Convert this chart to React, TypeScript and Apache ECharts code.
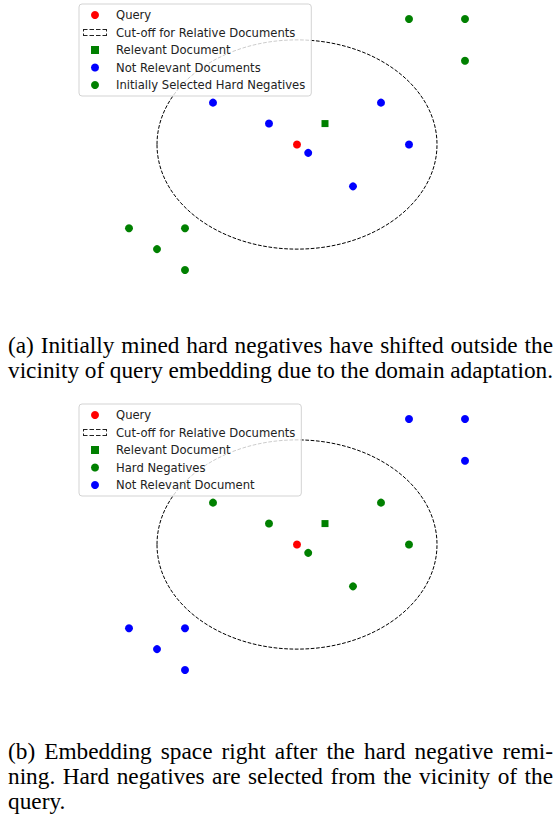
import React, { useEffect, useRef } from "react";
import * as echarts from "echarts";

// ---- data (embedding-space coordinates) ----
const queryPoint = [[0, 0]];
const relevantDoc = [[1, 1]];
const nearDocs = [[-3, 2], [-1, 1], [3, 2], [4, 0], [0.4, -0.4], [2, -2]];
const farDocs = [[4, 6], [6, 6], [6, 4], [-6, -4], [-4, -4], [-5, -5], [-4, -6]];
const cutoff = [[0, 0, 5]]; // centre x, centre y, radius

const legendA = [
  "Query",
  "Cut-off for Relative Documents",
  "Relevant Document",
  "Not Relevant Documents",
  "Initially Selected Hard Negatives",
];
const legendB = [
  "Query",
  "Cut-off for Relative Documents",
  "Relevant Document",
  "Hard Negatives",
  "Not Relevant Document",
];
const captionA = [
  "(a) Initially mined hard negatives have shifted outside the",
  "vicinity of query embedding due to the domain adaptation.",
];
const captionB = [
  "(b) Embedding space right after the hard negative remi-",
  "ning. Hard negatives are selected from the vicinity of the",
  "query.",
];

const RED = "#ff0000";
const BLUE = "#0000ff";
const GREEN = "#008000";

function dashedRectPath(): string {
  const w = 24, h = 7, t = 1;
  const parts: string[] = [];
  const r = (x0: number, y0: number, x1: number, y1: number) =>
    parts.push(`M${x0},${y0}H${x1}V${y1}H${x0}Z`);
  const hd = [[0, 4.5], [6.5, 11], [13, 17.5], [19.5, 24]];
  hd.forEach(([a, b]) => { r(a, 0, b, t); r(a, h - t, b, h); });
  const vd = [[0, 2.5], [4.5, 7]];
  vd.forEach(([a, b]) => { r(0, a, t, b); r(w - t, a, w, b); });
  return "path://" + parts.join(" ");
}
const SQUARE = "path://M0,0H1V1H0Z";

const CAP_FONT = 23.3;
const CAP_FAMILY = "Liberation Serif";
const CAP_LEFT = 8;
const CAP_WIDTH = 545;

function justifiedLine(text: string, y: number, justify: boolean, ctx: CanvasRenderingContext2D | null): any[] {
  const words = text.split(" ");
  const measure = (s: string) => (ctx ? ctx.measureText(s).width : s.length * CAP_FONT * 0.45);
  const widths = words.map(measure);
  const sum = widths.reduce((a, b) => a + b, 0);
  const natural = measure(" ");
  let gap = natural;
  if (words.length > 1) {
    const fitGap = (CAP_WIDTH - sum) / (words.length - 1);
    if (justify || fitGap < natural) gap = fitGap;
  }
  const els: any[] = [];
  let x = CAP_LEFT;
  words.forEach((w, i) => {
    els.push({
      type: "text", x, y,
      style: { text: w, fontFamily: CAP_FAMILY, fontSize: CAP_FONT, fill: "#000", verticalAlign: "middle" },
    });
    x += widths[i] + gap;
  });
  return els;
}

export default function App() {
  const ref = useRef<HTMLDivElement>(null);
  useEffect(() => {
    if (!ref.current) return;
    const chart = echarts.init(ref.current, undefined, { renderer: "svg" });
    const dashIcon = dashedRectPath();

    const grids = [
      { left: 115, width: 364, top: 8.5, height: 272 },
      { left: 115, width: 364, top: 408.5, height: 272 },
    ];
    const axis = (i: number) => ({
      type: "value", gridIndex: i, min: -6.5, max: 6.5, show: false,
    });

    const ellipseSeries = (i: number) => ({
      type: "custom",
      name: "Cut-off for Relative Documents",
      xAxisIndex: i, yAxisIndex: i,
      data: cutoff,
      z: 1,
      renderItem: (params: any, api: any) => {
        const c = api.coord([api.value(0), api.value(1)]);
        const s = api.size([api.value(2), api.value(2)]);
        return {
          type: "ellipse",
          shape: { cx: c[0], cy: c[1], rx: s[0], ry: s[1] },
          style: { fill: "none", stroke: "#000", lineWidth: 1, lineDash: [3.7, 1.6] },
        };
      },
    });
    const scatter = (i: number, name: string, data: number[][], color: string, symbol = "circle", size = 8) => ({
      type: "scatter", name, xAxisIndex: i, yAxisIndex: i, data,
      symbol, symbolSize: size, itemStyle: { color, opacity: 1 }, z: 3,
    });

    const legendBase = {
      orient: "vertical",
      left: 79,
      backgroundColor: "rgba(255,255,255,0.8)",
      borderColor: "#d3d3d3",
      borderWidth: 1,
      borderRadius: 3,
      padding: [4, 6, 4, 4],
      itemWidth: 24,
      itemHeight: 8,
      itemGap: 3.5,
      selectedMode: false,
      textStyle: { fontFamily: "DejaVu Sans", fontSize: 11.6, color: "#222", lineHeight: 14, padding: [0, 0, 0, 4] },
    };
    const iconsA = ["circle", dashIcon, SQUARE, "circle", "circle"];
    const colorsA = [RED, "#222", GREEN, BLUE, GREEN];
    const colorsB = [RED, "#222", GREEN, GREEN, BLUE];

    const canvas = document.createElement("canvas");
    const ctx = canvas.getContext("2d");
    if (ctx) ctx.font = `${CAP_FONT}px "${CAP_FAMILY}"`;
    const captionEls: any[] = [];
    captionA.forEach((t, i) => captionEls.push(...justifiedLine(t, 345 + i * 25, true, ctx)));
    captionB.forEach((t, i) =>
      captionEls.push(...justifiedLine(t, 751 + i * 25, i < captionB.length - 1, ctx)));

    chart.setOption({
      animation: false,
      backgroundColor: "#fff",
      grid: grids,
      xAxis: [axis(0), axis(1)],
      yAxis: [axis(0), axis(1)],
      legend: [
        { ...legendBase, top: 4,
          data: legendA.map((name, k) => ({ name, icon: iconsA[k], itemStyle: { color: colorsA[k], borderWidth: 0 } })) },
        { ...legendBase, top: 404,
          data: legendB.map((name, k) => ({ name, icon: iconsA[k], itemStyle: { color: colorsB[k], borderWidth: 0 } })) },
      ],
      series: [
        ellipseSeries(0),
        scatter(0, "Query", queryPoint, RED),
        scatter(0, "Relevant Document", relevantDoc, GREEN, "rect", 7),
        scatter(0, "Not Relevant Documents", nearDocs, BLUE),
        scatter(0, "Initially Selected Hard Negatives", farDocs, GREEN),
        ellipseSeries(1),
        scatter(1, "Query", queryPoint, RED),
        scatter(1, "Relevant Document", relevantDoc, GREEN, "rect", 7),
        scatter(1, "Hard Negatives", nearDocs, GREEN),
        scatter(1, "Not Relevant Document", farDocs, BLUE),
      ],
      graphic: captionEls,
    });
    return () => chart.dispose();
  }, []);
  return (
    <div
      ref={ref}
      style={{ position: "fixed", left: 0, top: 0, width: 555, height: 814, background: "#fff" }}
    />
  );
}
